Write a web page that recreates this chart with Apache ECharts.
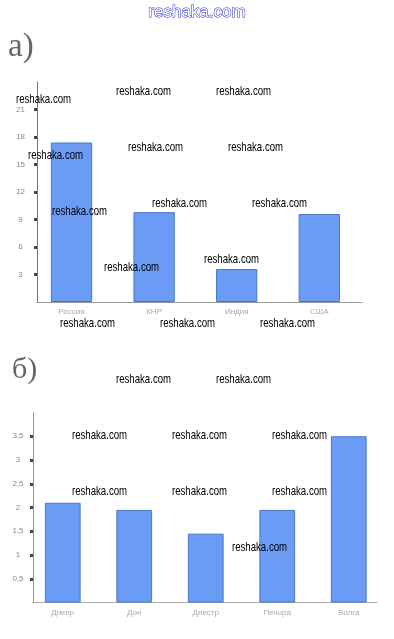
<!DOCTYPE html>
<html>
<head>
<meta charset="utf-8">
<script src="https://cdn.jsdelivr.net/npm/echarts@6/dist/echarts.min.js"></script>
<style>html,body{margin:0;padding:0;background:#fff}#c{width:394px;height:639px}</style>
</head>
<body>
<div id="c"></div>
<script>
// Chart a: territory
var catsA = ['Россия', 'КНР', 'Индия', 'США'];
var valsA = [17.4, 9.8, 3.6, 9.6];
var tickValsA = [3, 6, 9, 12, 15, 18, 21];
var tickLabelsA = ['3', '6', '9', '12', '15', '18', '21'];
// Chart b: rivers
var catsB = ['Днепр', 'Дон', 'Днестр', 'Печора', 'Волга'];
var valsB = [2.1, 1.95, 1.45, 1.95, 3.5];
var tickValsB = [0.5, 1, 1.5, 2, 2.5, 3, 3.5];
var tickLabelsB = ['0,5', '1', '1,5', '2', '2,5', '3', '3,5'];
// watermarks
var wmText = 'reshaka.com';
var wmPos = [[16,99],[116,91],[216,91],[28,155],[128,147],[228,147],[52,211],[152,203],[252,203],[104,267],[204,259],[60,323],[160,323],[260,323],
             [116,379],[216,379],[72,435],[172,435],[272,435],[72,491],[172,491],[272,491],[232,547]];

function labelFmt(vals, labels){
  return function(v){ for (var i=0;i<vals.length;i++){ if (Math.abs(vals[i]-v)<1e-6) return labels[i]; } return ''; };
}

var chart = echarts.init(document.getElementById('c'), null, {renderer:'canvas'});
var barStyle = {color:'#6a9cf6', borderColor:'#4877cc', borderWidth:1};
var graphics = [
  {type:'text', left:'center', top:3, style:{text:'reshaka.com', font:'17px "Liberation Sans", Arial, sans-serif', fill:'#ffffff', stroke:'#2a2ad0', lineWidth:1}},
  {type:'text', x:8, y:47, style:{text:'а)', font:'33px "Liberation Serif", "DejaVu Serif", serif', fill:'#666', verticalAlign:'middle'}},
  {type:'text', x:12, y:370, style:{text:'б)', font:'30px "Liberation Serif", "DejaVu Serif", serif', fill:'#666', verticalAlign:'middle'}}
];
wmPos.forEach(function(p){
  graphics.push({type:'text', x:p[0], y:p[1] + 0.5, scaleX:0.74, z:100, style:{text:wmText, font:'13px "Liberation Sans", Arial, sans-serif', fill:'#000', verticalAlign:'middle'}});
});

chart.setOption({
  animation:false,
  grid:[
    {left:30.2, top:82, width:330.4, height:220},
    {left:37, top:82, width:325, height:220},
    {left:27, top:412.5, width:357.5, height:190},
    {left:33, top:412.5, width:344, height:190}
  ],
  xAxis:[
    {gridIndex:0, type:'category', data:catsA, axisLine:{show:false}, axisTick:{show:false},
     axisLabel:{fontSize:8, color:'#aaa', margin:6, fontFamily:'Arial'}},
    {gridIndex:1, type:'value', min:0, max:1, axisLine:{show:true, lineStyle:{color:'#999'}}, axisTick:{show:false}, axisLabel:{show:false}, splitLine:{show:false}},
    {gridIndex:2, type:'category', data:catsB, axisLine:{show:false}, axisTick:{show:false},
     axisLabel:{fontSize:8, color:'#aaa', margin:6, fontFamily:'Arial'}},
    {gridIndex:3, type:'value', min:0, max:1, axisLine:{show:true, lineStyle:{color:'#aaa'}}, axisTick:{show:false}, axisLabel:{show:false}, splitLine:{show:false}}
  ],
  yAxis:[
    {gridIndex:0, type:'value', min:0, max:24, show:false, splitLine:{show:false}},
    {gridIndex:1, type:'value', min:0, max:24, interval:3,
     axisLine:{show:true, lineStyle:{color:'#777'}},
     axisTick:{show:true, length:3, customValues:tickValsA, lineStyle:{color:'#444', width:3}},
     axisLabel:{fontSize:8, color:'#888', align:'center', margin:16.5, customValues:tickValsA, formatter:labelFmt(tickValsA, tickLabelsA), fontFamily:'Arial'},
     splitLine:{show:false}},
    {gridIndex:2, type:'value', min:0, max:4, show:false, splitLine:{show:false}},
    {gridIndex:3, type:'value', min:0, max:4, interval:0.5,
     axisLine:{show:true, lineStyle:{color:'#8a9aa6'}},
     axisTick:{show:true, length:3, customValues:tickValsB, lineStyle:{color:'#444', width:3}},
     axisLabel:{fontSize:8, color:'#888', align:'center', margin:15, customValues:tickValsB, formatter:labelFmt(tickValsB, tickLabelsB), fontFamily:'Arial'},
     splitLine:{show:false}}
  ],
  series:[
    {type:'bar', xAxisIndex:0, yAxisIndex:0, data:valsA, barWidth:'50%', itemStyle:barStyle},
    {type:'bar', xAxisIndex:2, yAxisIndex:2, data:valsB, barWidth:'50%', itemStyle:barStyle}
  ],
  graphic:graphics
});
</script>
</body>
</html>
